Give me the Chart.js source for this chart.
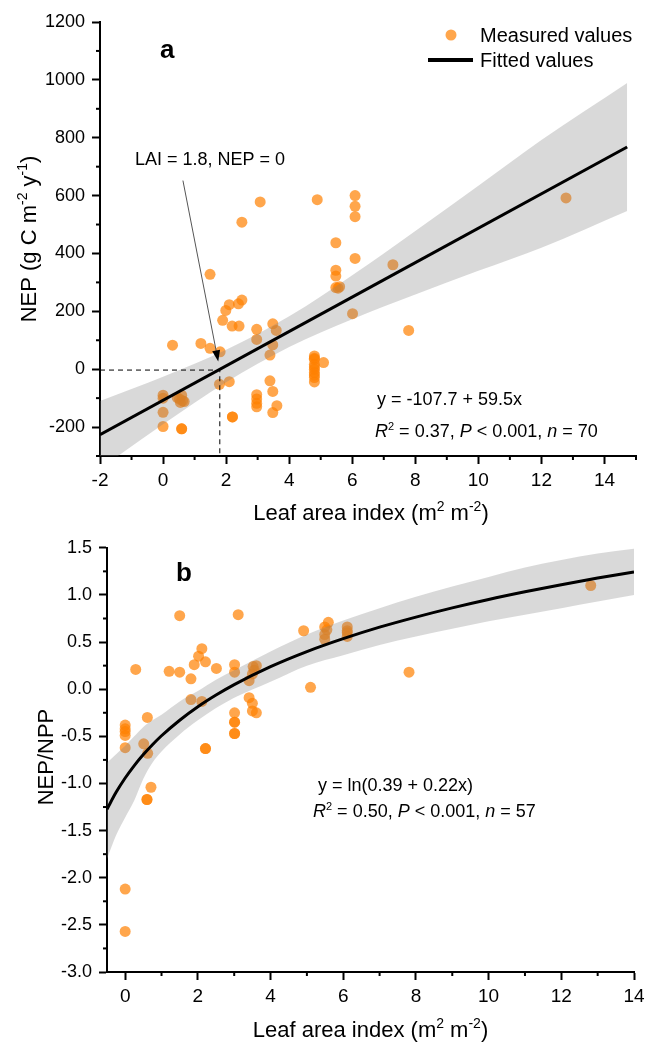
<!DOCTYPE html>
<html>
<head>
<meta charset="utf-8">
<script src="https://cdn.jsdelivr.net/npm/chart.js@4.4.1/dist/chart.umd.min.js"></script>
<style>
  body { margin: 0; background: #fff; }
  #wrap { position: relative; width: 656px; height: 1043px; }
  canvas { position: absolute; left: 0; }
  #chartA { top: 0; }
  #chartB { top: 530px; }
</style>
</head>
<body>
<div id="wrap">
  <canvas id="chartA" width="656" height="530"></canvas>
  <canvas id="chartB" width="656" height="513"></canvas>
</div>
<script>
// ---- panel a : NEP against leaf area index ----
const laiA = [2.5, 3.08, 4.89, 6.09, 6.09, 6.09, 5.48, 6.09, 12.78, 7.29, 5.48, 5.48, 5.48, 5.6, 5.55, 6.01, 7.79,
  4.8, 4.8, 4.8, 4.8, 4.8, 4.8, 4.8, 4.8, 4.8, 4.8, 5.09,
  1.49, 0.3, 1.2, 1.49, 1.81, 1.89, 1.99, 2.1, 2.19, 2.41, 2.39, 2.5,
  2.97, 2.97, 3.48, 3.59, 3.48, 3.39, 3.39, 3.48, 3.61, 3.48,
  2.97, 2.97, 2.97, 2.97, 2.1, 1.79, 2.2, 2.2, 0.59, 0.59,
  0, 0, 0, 0, 0.45, 0.52, 0.59, 0.62, 0.67, 0.55];
const nepA = [508, 578, 586, 600, 563, 527, 437, 383, 592, 361, 342, 322, 282, 285, 280, 192, 134,
  46, 38, 34, 17, 8, 0, -11, -20, -29, -44, 23,
  328, 83, 89, 72, 60, 169, 203, 223, 149, 149, 226, 239,
  138, 103, 157, 134, 84, 49, -40, -77, -126, -150,
  -88, -103, -118, -130, -43, -52, -165, -165, -206, -206,
  -90, -100, -149, -198, -98, -103, -90, -109, -112, -115];

// fitted line and its confidence band
const fitLaiA = [-2, 14.72];
const fitNepA = [-226.7, 768.1];
const bandLaiA = [-2, 0, 2, 4, 6, 8, 10, 12, 14.72];
const bandUpA = [-110, -26, 67, 183, 325, 478, 634, 792, 989];
const bandLoA = [-344, -190, -45, 77, 173, 258, 340, 420, 547];

// dashed guide to LAI = 1.8 and the arrow to it
const guideLaiA = [-2, 1.8, 1.8];
const guideNepA = [-3, -3, -300];
const arrowFromA = [0.63, 652];
const arrowToA = [1.75, 27];

const xLabelsA = [-2, 0, 2, 4, 6, 8, 10, 12, 14];
const yLabelsA = [-200, 0, 200, 400, 600, 800, 1000, 1200];

// ---- panel b : NEP/NPP against leaf area index ----
const laiB = [1.5, 3.11, 0.29, 1.21, 1.5, 1.81, 1.9, 2.02, 2.11, 2.21, 2.51, 1.81, 2.11,
  3.01, 3.01, 3.52, 3.61, 3.5, 3.41, 3.55, 3.41, 3.5, 3.5, 3.61,
  3.01, 3.01, 3.01, 3.01, 3.01, 2.21, 2.21,
  4.91, 5.1, 5.49, 5.59, 5.49, 5.49, 5.55, 6.11, 6.11, 6.11, 6.11, 7.81, 12.81,
  0, 0, 0, 0, 0, 0.51, 0.61, 0.62, 0.71, 0.6, 0.6, 0, 0];
const ratioB = [0.78, 0.79, 0.21, 0.19, 0.18, 0.11, 0.26, 0.35, 0.43, 0.29, 0.22, -0.11, -0.13,
  0.26, 0.18, 0.24, 0.25, 0.16, 0.09, 0.2, -0.09, -0.15, -0.23, -0.25,
  -0.25, -0.35, -0.35, -0.47, -0.47, -0.63, -0.63,
  0.62, 0.02, 0.66, 0.71, 0.58, 0.53, 0.63, 0.66, 0.62, 0.6, 0.56, 0.18, 1.1,
  -0.38, -0.42, -0.45, -0.49, -0.62, -0.58, -0.3, -0.68, -1.04, -1.17, -1.17, -2.12, -2.57];

const fitLaiB = [-0.5, -0.25, 0, 0.25, 0.5, 0.75, 1, 1.5, 2, 2.5, 3, 4, 5, 6, 7, 8, 9, 10, 11, 12, 13, 14];
const fitRatioB = [-1.273, -1.094, -0.942, -0.81, -0.693, -0.589, -0.494, -0.329, -0.186, -0.062, 0.049,
  0.239, 0.399, 0.536, 0.658, 0.765, 0.863, 0.952, 1.033, 1.109, 1.179, 1.244];
const bandUpB = [-0.78, -0.69, -0.6, -0.5, -0.4, -0.33, -0.27, -0.13, -0.02, 0.1, 0.2,
  0.4, 0.58, 0.73, 0.86, 0.98, 1.09, 1.19, 1.29, 1.37, 1.44, 1.49];
const bandLoB = [-1.8, -1.55, -1.36, -1.18, -0.95, -0.78, -0.66, -0.48, -0.33, -0.2, -0.09,
  0.08, 0.25, 0.36, 0.47, 0.56, 0.64, 0.72, 0.79, 0.86, 0.93, 1.0];

const xLabelsB = [0, 2, 4, 6, 8, 10, 12, 14];
const yLabelsB = [-3, -2.5, -2, -1.5, -1, -0.5, 0, 0.5, 1, 1.5];

// ---- shared styling ----
const FONT = "'Liberation Sans', Arial, Helvetica, sans-serif";
const DOT = 'rgba(255,128,0,0.7)';
const BAND = 'rgba(128,128,128,0.3)';
Chart.defaults.font.family = FONT;
Chart.defaults.color = '#000';

function toXY(xs, ys) {
  return xs.map((x, i) => ({ x: x, y: ys[i] }));
}

// draw a run of text pieces: '' plain, 'i' italic, 's' superscript, 'b' bold
function richText(ctx, parts, x, y, size, align) {
  const fontFor = st => (st === 'i' ? 'italic ' : st === 'b' ? 'bold ' : '') +
    (st === 's' ? Math.round(size * 0.62) : size) + 'px ' + FONT;
  let w = 0;
  parts.forEach(p => { ctx.font = fontFor(p[1]); w += ctx.measureText(p[0]).width; });
  let cx = align === 'center' ? x - w / 2 : x;
  ctx.textAlign = 'left';
  ctx.textBaseline = 'alphabetic';
  parts.forEach(p => {
    ctx.font = fontFor(p[1]);
    ctx.fillText(p[0], cx, p[1] === 's' ? y - size * 0.4 : y);
    cx += ctx.measureText(p[0]).width;
  });
}

// short unlabelled ticks between the labelled ones
function minorTicks(xLabels, yLabels) {
  return {
    id: 'minorTicks',
    afterDraw(chart) {
      const ctx = chart.ctx;
      const xs = chart.scales.x, ys = chart.scales.y;
      ctx.save();
      ctx.strokeStyle = '#000';
      ctx.lineWidth = 2;
      xs.ticks.forEach(t => {
        if (xLabels.includes(t.value)) return;
        const p = xs.getPixelForValue(t.value);
        ctx.beginPath(); ctx.moveTo(p, xs.top); ctx.lineTo(p, xs.top + 4); ctx.stroke();
      });
      ys.ticks.forEach(t => {
        if (yLabels.includes(t.value)) return;
        const p = ys.getPixelForValue(t.value);
        ctx.beginPath(); ctx.moveTo(ys.right, p); ctx.lineTo(ys.right - 4, p); ctx.stroke();
      });
      ctx.restore();
    }
  };
}

function axisScales(xr, yr, xLabels, yLabels, yWidth, xHeight, yFmt) {
  const tickCol = labels => c => labels.includes(c.tick.value) ? '#000' : 'rgba(0,0,0,0)';
  return {
    x: {
      type: 'linear', position: 'bottom', min: xr[0], max: xr[1],
      border: { display: true, color: '#000', width: 2 },
      grid: { drawOnChartArea: false, tickLength: 8, tickWidth: 2, tickColor: tickCol(xLabels) },
      ticks: {
        stepSize: 1, includeBounds: false, autoSkip: false, maxRotation: 0, padding: 5,
        font: { size: 19 },
        callback: v => xLabels.includes(v) ? String(v) : ''
      },
      afterFit: s => { s.height = xHeight; }
    },
    y: {
      type: 'linear', position: 'left', min: yr[0], max: yr[1],
      border: { display: true, color: '#000', width: 2 },
      grid: { drawOnChartArea: false, tickLength: 8, tickWidth: 2, tickColor: tickCol(yLabels) },
      ticks: {
        stepSize: yr[2], autoSkip: false, padding: 7,
        font: { size: 18 },
        callback: v => yLabels.includes(v) ? yFmt(v) : ''
      },
      afterFit: s => { s.width = yWidth; }
    }
  };
}

function lineSet(xs, ys, extra) {
  return Object.assign({
    data: toXY(xs, ys), showLine: true, pointRadius: 0, borderWidth: 0,
    cubicInterpolationMode: 'monotone'
  }, extra);
}

// ---- chart a ----
const extrasA = {
  id: 'extrasA',
  afterDatasetsDraw(chart) {
    const ctx = chart.ctx, xs = chart.scales.x, ys = chart.scales.y;
    // arrow
    const x1 = xs.getPixelForValue(arrowFromA[0]), y1 = ys.getPixelForValue(arrowFromA[1]);
    const x2 = xs.getPixelForValue(arrowToA[0]), y2 = ys.getPixelForValue(arrowToA[1]);
    const ang = Math.atan2(y2 - y1, x2 - x1);
    ctx.save();
    ctx.strokeStyle = '#555';
    ctx.lineWidth = 1;
    ctx.beginPath(); ctx.moveTo(x1, y1); ctx.lineTo(x2 - 9 * Math.cos(ang), y2 - 9 * Math.sin(ang)); ctx.stroke();
    ctx.fillStyle = '#000';
    ctx.beginPath();
    ctx.moveTo(x2, y2);
    ctx.lineTo(x2 - 11 * Math.cos(ang) + 4 * Math.sin(ang), y2 - 11 * Math.sin(ang) - 4 * Math.cos(ang));
    ctx.lineTo(x2 - 11 * Math.cos(ang) - 4 * Math.sin(ang), y2 - 11 * Math.sin(ang) + 4 * Math.cos(ang));
    ctx.closePath(); ctx.fill();
    ctx.restore();
  },
  afterDraw(chart) {
    const ctx = chart.ctx, a = chart.chartArea;
    ctx.save();
    ctx.fillStyle = '#000';
    richText(ctx, [['a', 'b']], 160, 58, 26);
    richText(ctx, [['LAI = 1.8, NEP = 0', '']], 135, 165, 18);
    richText(ctx, [['y = -107.7 + 59.5x', '']], 377, 405, 18);
    richText(ctx, [['R', 'i'], ['2', 's'], [' = 0.37, ', ''], ['P', 'i'], [' < 0.001, ', ''], ['n', 'i'], [' = 70', '']], 375, 437, 18);
    // legend
    ctx.fillStyle = DOT;
    ctx.beginPath(); ctx.arc(451, 35, 5.5, 0, Math.PI * 2); ctx.fill();
    ctx.strokeStyle = '#000'; ctx.lineWidth = 4;
    ctx.beginPath(); ctx.moveTo(428, 60); ctx.lineTo(473, 60); ctx.stroke();
    ctx.fillStyle = '#000';
    richText(ctx, [['Measured values', '']], 480, 42, 20);
    richText(ctx, [['Fitted values', '']], 480, 67, 20);
    // axis titles
    richText(ctx, [['Leaf area index (m', ''], ['2', 's'], [' m', ''], ['-2', 's'], [')', '']], (a.left + a.right) / 2 + 3, 520, 22, 'center');
    ctx.translate(36, 239);
    ctx.rotate(-Math.PI / 2);
    richText(ctx, [['NEP (g C m', ''], ['-2', 's'], [' y', ''], ['-1', 's'], [')', '']], 0, 0, 22, 'center');
    ctx.restore();
  }
};

new Chart(document.getElementById('chartA'), {
  type: 'scatter',
  data: {
    datasets: [
      lineSet(fitLaiA, fitNepA, { borderColor: '#000', borderWidth: 3, order: 0 }),
      lineSet(bandLaiA, bandUpA, { backgroundColor: BAND, fill: '+1', order: 1 }),
      lineSet(bandLaiA, bandLoA, { order: 1 }),
      { data: toXY(laiA, nepA), pointRadius: 5.5, pointBackgroundColor: DOT, pointBorderWidth: 0, order: 3 },
      lineSet(guideLaiA, guideNepA, { borderColor: '#000', borderWidth: 1, borderDash: [5, 4], cubicInterpolationMode: 'default', tension: 0, order: 0 })
    ]
  },
  options: {
    responsive: false, animation: false, devicePixelRatio: 1,
    layout: { padding: { left: 0, top: 22, right: 20, bottom: 0 } },
    plugins: { legend: { display: false }, tooltip: { enabled: false } },
    scales: axisScales([-2, 15, 100], [-300, 1200, 100], xLabelsA, yLabelsA, 100, 74, v => String(v))
  },
  plugins: [minorTicks(xLabelsA, yLabelsA), extrasA]
});

// ---- chart b ----
const extrasB = {
  id: 'extrasB',
  afterDraw(chart) {
    const ctx = chart.ctx, a = chart.chartArea;
    ctx.save();
    ctx.fillStyle = '#000';
    richText(ctx, [['b', 'b']], 176, 51, 26);
    richText(ctx, [['y = ln(0.39 + 0.22x)', '']], 318, 261, 18);
    richText(ctx, [['R', 'i'], ['2', 's'], [' = 0.50, ', ''], ['P', 'i'], [' < 0.001, ', ''], ['n', 'i'], [' = 57', '']], 313, 287, 18);
    richText(ctx, [['Leaf area index (m', ''], ['2', 's'], [' m', ''], ['-2', 's'], [')', '']], (a.left + a.right) / 2, 507, 22, 'center');
    ctx.translate(53, 227);
    ctx.rotate(-Math.PI / 2);
    richText(ctx, [['NEP/NPP', '']], 0, 0, 22, 'center');
    ctx.restore();
  }
};

new Chart(document.getElementById('chartB'), {
  type: 'scatter',
  data: {
    datasets: [
      lineSet(fitLaiB, fitRatioB, { borderColor: '#000', borderWidth: 3, order: 0 }),
      lineSet(fitLaiB, bandUpB, { backgroundColor: BAND, fill: '+1', order: 1 }),
      lineSet(fitLaiB, bandLoB, { order: 1 }),
      { data: toXY(laiB, ratioB), pointRadius: 5.5, pointBackgroundColor: DOT, pointBorderWidth: 0, order: 3 }
    ]
  },
  options: {
    responsive: false, animation: false, devicePixelRatio: 1,
    layout: { padding: { left: 0, top: 15, right: 22, bottom: 0 } },
    plugins: { legend: { display: false }, tooltip: { enabled: false } },
    scales: axisScales([-0.5, 14, 1], [-3, 1.5, 0.25], xLabelsB, yLabelsB, 107, 71, v => v.toFixed(1))
  },
  plugins: [minorTicks(xLabelsB, yLabelsB), extrasB]
});
</script>
</body>
</html>
